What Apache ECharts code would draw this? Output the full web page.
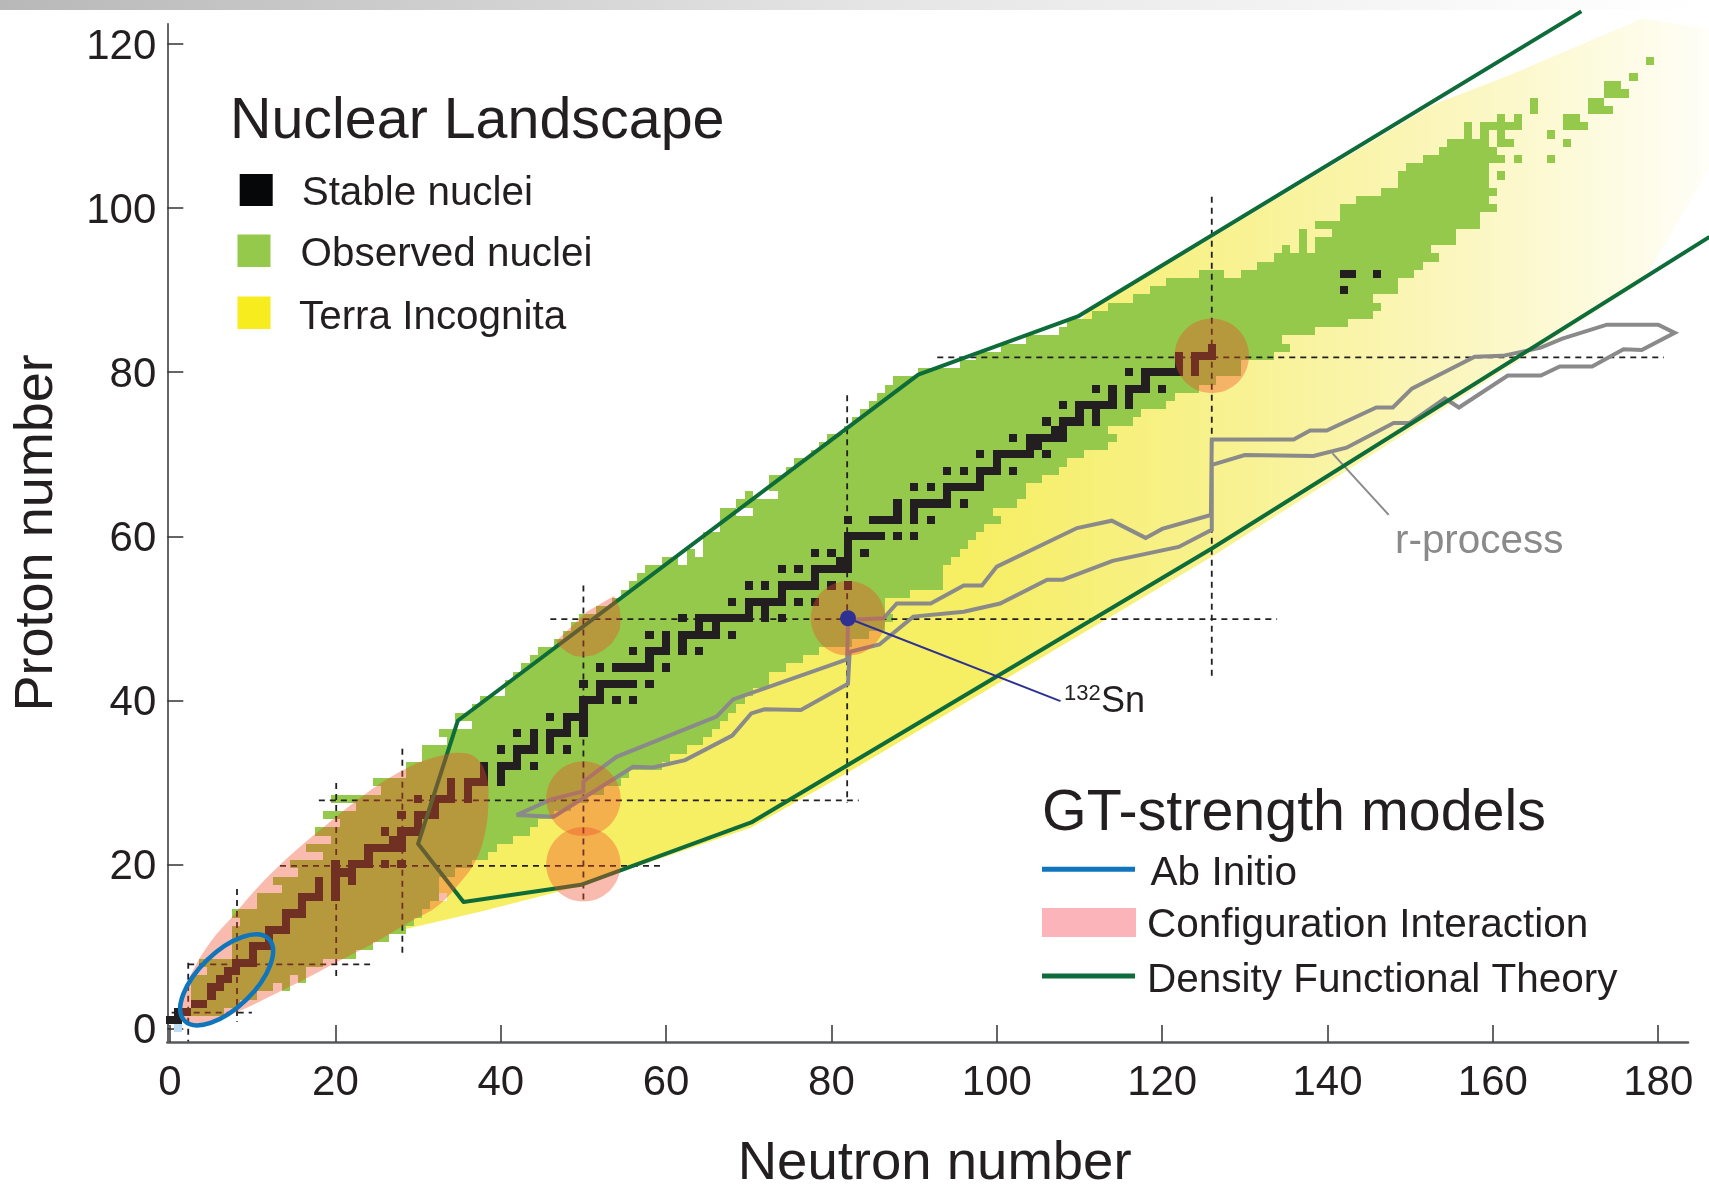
<!DOCTYPE html>
<html><head><meta charset="utf-8">
<style>html,body{margin:0;padding:0;background:#fff}#c{width:1709px;height:1184px}</style>
<script src="https://cdn.jsdelivr.net/npm/echarts@6/dist/echarts.min.js"></script>
</head><body><div id="c"></div>
<script>
const xTicks=[0,20,40,60,80,100,120,140,160,180];
const yTicks=[0,20,40,60,80,100,120];
// observed nuclei: [Z, lowest N, highest N]
const observedRows=[[2,2,6],[3,3,8],[4,3,10],[5,3,12],[5,14,14],[6,3,14],[6,16,16],[7,5,16],[8,4,18],[9,8,22],[10,8,24],[11,8,26],[12,8,28],[13,9,29],[14,8,30],[15,11,31],[16,11,32],[17,14,32],[18,13,32],[19,16,34],[20,15,36],[21,19,38],[22,17,39],[23,20,41],[24,18,43],[25,21,44],[26,19,46],[27,23,48],[28,20,50],[29,26,52],[30,25,54],[31,29,55],[32,29,59],[33,31,60],[34,31,62],[35,34,64],[36,33,65],[37,37,66],[38,35,67],[39,37,68],[40,38,69],[41,41,70],[42,41,72],[43,42,72],[44,43,74],[45,44,76],[46,45,78],[47,47,82],[48,48,84],[49,49,86],[50,50,87],[51,52,86],[52,54,86],[53,55,89],[54,56,93],[55,57,93],[56,58,93],[57,60,61],[57,63,94],[58,63,63],[58,65,95],[59,65,96],[60,65,97],[61,67,98],[62,67,100],[63,67,68],[63,71,99],[64,69,102],[65,70,70],[65,74,103],[66,73,103],[67,73,105],[68,75,107],[69,76,108],[70,78,110],[71,79,113],[72,80,114],[73,82,113],[74,83,116],[75,84,117],[76,85,120],[77,86,121],[78,87,124],[79,88,126],[80,91,129],[81,96,129],[82,98,133],[83,101,135],[84,104,134],[85,108,138],[86,109,142],[87,112,145],[88,114,146],[89,117,145],[90,119,148],[91,121,148],[92,125,127],[92,130,150],[93,132,151],[94,134,153],[95,135,135],[95,137,137],[95,139,152],[96,137,137],[96,139,155],[97,137,137],[97,141,155],[98,139,158],[99,142,158],[100,142,160],[101,144,159],[102,147,160],[103,149,159],[104,149,159],[104,161,161],[105,150,159],[106,152,161],[106,163,163],[106,167,167],[107,154,160],[108,155,159],[108,161,162],[108,169,169],[109,157,157],[109,159,159],[109,161,161],[109,167,167],[110,157,157],[110,159,163],[110,169,171],[111,161,161],[111,163,163],[111,169,170],[112,165,165],[112,172,174],[113,165,165],[113,172,173],[114,174,176],[115,174,175],[116,177,177],[118,179,179]];
// stable nuclei: [Z, [N values]]
const stableByZ=[[1,[0,1]],[2,[1,2]],[3,[3,4]],[4,[5]],[5,[5,6]],[6,[6,7]],[7,[7,8]],[8,[8,9,10]],[9,[10]],[10,[10,11,12]],[11,[12]],[12,[12,13,14]],[13,[14]],[14,[14,15,16]],[15,[16]],[16,[16,17,18,20]],[17,[18,20]],[18,[18,20,22]],[19,[20,21,22]],[20,[20,22,23,24,26,28]],[21,[24]],[22,[24,25,26,27,28]],[23,[27,28]],[24,[26,28,29,30]],[25,[30]],[26,[28,30,31,32]],[27,[32]],[28,[30,32,33,34,36]],[29,[34,36]],[30,[34,36,37,38,40]],[31,[38,40]],[32,[38,40,41,42,44]],[33,[42]],[34,[40,42,43,44,46,48]],[35,[44,46]],[36,[42,44,46,47,48,50]],[37,[48,50]],[38,[46,48,49,50]],[39,[50]],[40,[50,51,52,54,56]],[41,[52]],[42,[50,52,53,54,55,56,58]],[44,[52,54,55,56,57,58,60]],[45,[58]],[46,[56,58,59,60,62,64]],[47,[60,62]],[48,[58,60,62,63,64,65,66,68]],[49,[64,66]],[50,[62,64,65,66,67,68,69,70,72,74]],[51,[70,72]],[52,[68,70,71,72,73,74,76,78]],[53,[74]],[54,[70,72,74,75,76,77,78,80,82]],[55,[78]],[56,[74,76,78,79,80,81,82]],[57,[81,82]],[58,[78,80,82,84]],[59,[82]],[60,[82,83,84,85,86,88,90]],[62,[82,85,86,87,88,90,92]],[63,[88,90]],[64,[88,90,91,92,93,94,96]],[65,[94]],[66,[90,92,94,95,96,97,98]],[67,[98]],[68,[94,96,98,99,100,102]],[69,[100]],[70,[98,100,101,102,103,104,106]],[71,[104,105]],[72,[102,104,105,106,107,108]],[73,[107,108]],[74,[106,108,109,110,112]],[75,[110,112]],[76,[108,110,111,112,113,114,116]],[77,[114,116]],[78,[112,114,116,117,118,120]],[79,[118]],[80,[116,118,119,120,121,122,124]],[81,[122,124]],[82,[122,124,125,126]],[83,[126]],[90,[142]],[92,[142,143,146]]];
const freeNeutron=[[1,0]];
const whiteHoles=[[33,16]];
const terraIncognita=[[24.6,11.2],[30,20],[60,45],[100,75],[111,87.3],[152.7,112.6],[162.2,116.3],[178,123.1],[186.2,121.9],[186.2,104.8],[178,90.9],[126,57.5],[82.2,31.3],[70.3,24.5],[50,17.5],[46,16.4],[37.5,14.2]];
const dftBoundary=[[170.7,124],[109.8,86.8],[90.5,79.7],[34.8,37.5],[30,22.5],[35.5,15.4],[49.7,17.5],[70.3,25.1],[126,58.5],[186.2,96.5]];
const rProcess=[[41.9,26],[46.1,27.9],[50,28.9],[50,30.1],[54,33.1],[66.1,38],[68.1,40.1],[81.9,45],[82,49.8],[86.3,50],[87.9,51.8],[92,51.8],[96,54],[98.2,54],[100,56.3],[109.7,61],[113.9,61.9],[118,59.8],[120,60.9],[125.9,62.6],[126,71.8],[135.9,71.8],[137.9,72.9],[139.9,72.9],[145.9,75.7],[147.9,75.7],[150.2,78],[157.8,81.9],[161.2,82],[165.8,83],[168.4,84.1],[173.8,85.8],[180,85.8],[182,84.8],[178,82.7],[175.8,82.8],[172,80.7],[168.1,80.7],[165.8,79.6],[161.8,79.6],[155.9,75.7],[154.2,76.8],[149.9,73.8],[148,73.8],[142.3,70.8],[138.3,69.8],[130,69.9],[126,68.7],[126,60.8],[122,58.7],[114,57],[108,54.7],[106.1,54.7],[100.4,51.8],[96,50.8],[89.9,50.2],[85.8,46.8],[82.2,45.9],[82,42],[76.3,38.8],[71.9,38.9],[70.3,38.4],[68,35.7],[62.3,32.7],[58.4,31.8],[56,31.9],[46.4,25.8],[41.9,26]];
const rProcessPointer=[[140.6,70.1],[147.4,62.6]];
const sn132=[[82,50]];
const sn132Pointer=[[82,50],[107.7,39.9]];
// magic-number guides: [x1,y1,x2,y2]
const magicGuides=[[0.2,1.9,9.9,1.9],[2.2,7.8,24.2,7.8],[13.3,19.8,59.7,19.8],[18,27.8,83.3,27.8],[46,49.9,133.9,49.9],[92.8,81.8,180.7,81.8],[2.2,8,2.2,-1.6],[8.1,17,8.1,0.8],[20.1,29.9,20.1,6.3],[28.1,34.1,28.1,8.7],[50,54,50,15.4],[81.9,77.2,81.9,27.5],[126,101.4,126,42.6]];
// configuration interaction regions
const ciBlob=[[1,2.65],[2.2,5.9],[4.8,10.4],[7.7,13.8],[10.9,17.5],[14.9,21.4],[18.9,24.8],[23.8,28.7],[28.6,31.7],[32.2,33.1],[35.1,33.6],[37.1,32.9],[38.3,30.7],[38.5,27.4],[38.1,23.8],[36.9,20.3],[34.7,17.3],[32.2,14.8],[29.4,13.2],[25,10.6],[20.6,8.3],[16.5,6.1],[12.5,4.1],[8.1,2],[4,0.6],[1.8,0.8]];
const ciHalfCircle=[[53.7,52.7],[54.4,51.2],[54.5,49.8],[54.4,48.6],[54,47.8],[53.4,46.9],[52.4,46.1],[51.3,45.5],[50,45.3],[48.9,45.4],[48,45.9],[47.2,46.5],[46.7,47.2],[50.4,50.8]];
const ciCircles=[[82,50],[126,82],[50,28],[50,20]];
const ciRadius=[4.5,4.55];
// ab initio ellipse: centre, semi-axes
const abInitioCentre=[[6.85,5.9]];
const abInitioSemi=[7.1,3.4];

const GREEN='#94C94B',BLACK='#231F20',DFT='#0E6B3A',BLUE='#0F75BC',GREY='#8A8A8A',NAVY='#2E3192';
const FONT='"Liberation Sans",Arial,sans-serif';
const CI='rgba(238,75,40,0.38)';
const stableCells=[];stableByZ.forEach(r=>r[1].forEach(n=>stableCells.push([n,r[0]])));

function crisp(a,b){const x=Math.round(a[0]),y=Math.round(a[1]);return {x,y,width:Math.round(b[0])-x,height:Math.round(b[1])-y};}
function cellSeries(data,color,z){return {type:'custom',coordinateSystem:'cartesian2d',clip:false,silent:true,z,data,encode:{x:0,y:1},
  renderItem(p,api){const a=api.coord([api.value(0)-.5,api.value(1)+.5]),b=api.coord([api.value(0)+.5,api.value(1)-.5]);
    return {type:'rect',shape:crisp(a,b),style:{fill:color}};}};}
function polySeries(points,style,z,smooth,kind){return {type:'custom',coordinateSystem:'cartesian2d',clip:false,silent:true,z,data:points,encode:{x:0,y:1},
  renderItem(p,api){if(p.dataIndex!==0)return null;return {type:kind||'polygon',shape:{points:points.map(q=>api.coord(q)),smooth:smooth||0},style};}};}
function lineSeries(data,color,width,z){return {type:'line',data,clip:false,silent:true,showSymbol:false,symbol:'none',z,lineStyle:{color,width,join:'miter'},animation:false};}
function txt(text,x,y,size,fill){return {type:'text',z:60,style:{text,x,y,fill:fill||BLACK,font:size+'px '+FONT,verticalAlign:'middle',textAlign:'left'}};}
function box(x,y,w,h,fill){return {type:'rect',z:60,shape:{x,y,width:w,height:h},style:{fill}};}

const chart=echarts.init(document.getElementById('c'),null,{renderer:'canvas'});
chart.setOption({
  animation:false,backgroundColor:'#fff',
  grid:{left:167.3,top:23.7,width:1520.7,height:1018.3,containLabel:false,outerBoundsMode:'none'},
  xAxis:{type:'value',min:-0.33,max:183.6,splitLine:{show:false},
    name:'Neutron number',nameLocation:'middle',nameGap:94,nameTextStyle:{fontFamily:FONT,fontSize:54.5,color:BLACK,padding:[0,0,0,14]},
    axisLine:{onZero:false,lineStyle:{color:'#58595B',width:2.5}},
    axisTick:{inside:true,length:17,lineStyle:{color:'#333',width:1.5},customValues:xTicks},
    axisLabel:{fontFamily:FONT,fontSize:42,color:BLACK,margin:20,customValues:xTicks,showMinLabel:true,showMaxLabel:true}},
  yAxis:{type:'value',min:-1.67,max:122.5,splitLine:{show:false},
    name:'Proton number',nameLocation:'middle',nameGap:103,nameTextStyle:{fontFamily:FONT,fontSize:54,color:BLACK},
    axisLine:{onZero:false,lineStyle:{color:'#333',width:1.5}},
    axisTick:{inside:true,length:16,lineStyle:{color:'#333',width:1.5},customValues:yTicks},
    axisLabel:{fontFamily:FONT,fontSize:42,color:BLACK,margin:11,verticalAlign:'top',padding:[-18,0,0,0],customValues:yTicks,showMinLabel:true,showMaxLabel:true}},
  series:[
    polySeries(terraIncognita,{fill:new echarts.graphic.LinearGradient(0,0,1,0,[{offset:0,color:'#F6EE63'},{offset:.45,color:'#F6EE63'},{offset:.65,color:'#F8F293'},{offset:.8,color:'#FBF6BB'},{offset:.92,color:'#FDFBE0'},{offset:1,color:'#FFFEF8'}])},2),
    cellSeries(whiteHoles,'#fff',3),
    {type:'custom',coordinateSystem:'cartesian2d',clip:false,silent:true,z:4,data:observedRows,encode:{x:1,y:0},
      renderItem(p,api){const a=api.coord([api.value(1)-.5,api.value(0)+.5]),b=api.coord([api.value(2)+.5,api.value(0)-.5]);
        return {type:'rect',shape:crisp(a,b),style:{fill:GREEN}};}},
    cellSeries(freeNeutron,'#BEDDF2',4),
    cellSeries(stableCells,BLACK,5),
    {type:'custom',coordinateSystem:'cartesian2d',clip:false,silent:true,z:6,data:magicGuides,encode:{x:0,y:1},
      renderItem(p,api){const a=api.coord([api.value(0),api.value(1)]),b=api.coord([api.value(2),api.value(3)]);
        return {type:'line',shape:{x1:a[0],y1:a[1],x2:b[0],y2:b[1]},style:{stroke:BLACK,lineWidth:1.8,lineDash:[6,5]}};}},
    lineSeries(rProcess,GREY,4,7),
    lineSeries(rProcessPointer,GREY,2,7),
    polySeries(dftBoundary,{fill:'none',stroke:DFT,lineWidth:4,lineJoin:'round'},8,0,'polyline'),
    polySeries(ciBlob,{fill:CI},9,0.4),
    polySeries(ciHalfCircle,{fill:CI},9),
    {type:'custom',coordinateSystem:'cartesian2d',clip:false,silent:true,z:9,data:ciCircles,encode:{x:0,y:1},
      renderItem(p,api){const c=api.coord([api.value(0),api.value(1)]),s=api.size(ciRadius);
        return {type:'ellipse',shape:{cx:c[0],cy:c[1],rx:s[0],ry:s[1]},style:{fill:CI}};}},
    {type:'custom',coordinateSystem:'cartesian2d',clip:false,silent:true,z:10,data:abInitioCentre,encode:{x:0,y:1},
      renderItem(p,api){const c=api.coord([api.value(0),api.value(1)]),s=api.size(abInitioSemi);
        return {type:'ellipse',x:c[0],y:c[1],rotation:0.77,shape:{cx:0,cy:0,rx:s[0],ry:s[1]},style:{fill:'none',stroke:BLUE,lineWidth:4.5}};}},
    lineSeries(sn132Pointer,NAVY,2,11),
    {type:'scatter',data:sn132,symbol:'circle',symbolSize:16,clip:false,silent:true,z:12,itemStyle:{color:NAVY,opacity:1}}
  ],
  graphic:{elements:[
    {type:'rect',z:50,shape:{x:0,y:0,width:1709,height:10},style:{fill:new echarts.graphic.LinearGradient(0,0,1,0,[{offset:0,color:'#B8B8B8'},{offset:.5,color:'#E4E4E4'},{offset:.9,color:'#FBFBFB'},{offset:1,color:'#FFFFFF'}])}},
    txt('Nuclear Landscape',230,122,57.4),
    box(239.7,174,33,32,'#050708'),txt('Stable nuclei',301.7,194,40.4),
    box(237.5,234.6,33,32.5,GREEN),txt('Observed nuclei',300.6,255,40.4),
    box(237.5,296.6,33,32.5,'#F7EC1E'),txt('Terra Incognita',299,318,40.4),
    txt('GT-strength models',1042,814,57.4),
    box(1042,866.8,93,5,BLUE),txt('Ab Initio',1150.6,874,40.5),
    box(1042,908,94,29,'#FBB4B9'),txt('Configuration Interaction',1147,926,40.5),
    box(1042,973.5,93,5,DFT),txt('Density Functional Theory',1147,981,40.5),
    txt('r-process',1395,542,40.4,GREY),
    txt('132',1064,694,22),txt('Sn',1101,702,36)
  ]}
});
</script></body></html>
